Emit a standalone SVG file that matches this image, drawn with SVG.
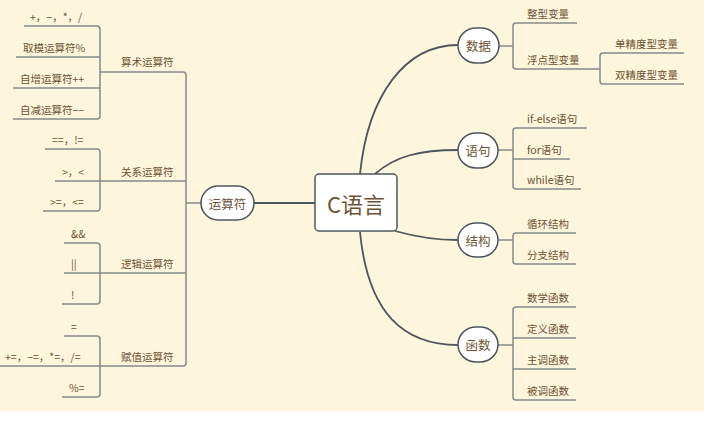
<svg xmlns="http://www.w3.org/2000/svg" width="704" height="423" viewBox="0 0 704 423">
<style>
.bg{fill:#fdf5dc}
.ln{fill:none;stroke:#858a8c;stroke-width:1.5}
.cv{fill:none;stroke:#4c575d;stroke-width:1.8}
.nd{fill:#ffffff;stroke:#4c575d;stroke-width:1.5}
.t{font-family:"Noto Sans CJK SC","Noto Sans",sans-serif;font-size:10.5px;fill:#6e5233}
.tn{font-family:"Noto Sans CJK SC","Noto Sans",sans-serif;font-size:12.5px;fill:#6e5233;text-anchor:middle;dominant-baseline:central}
</style>
<rect x="0" y="0" width="704" height="423" fill="#ffffff"/>
<rect class="bg" x="0" y="0" width="704" height="411"/>
<g id="connectors">
<path class="cv" d="M360,174 C368,95 405,45 458,45"/>
<path class="cv" d="M375,174 C395,156 420,150 458,150"/>
<path class="cv" d="M395,231 C420,238 440,240 458,240"/>
<path class="cv" d="M360,232 C368,315 405,345 458,345"/>
<path class="cv" d="M254,203 H315"/>
<path class="ln" d="M186,203 H201"/>
<path class="ln" d="M100,72 H183 Q186,72 186,75 V363 Q186,366 183,366 H0"/>
<path class="ln" d="M100,181 H186"/>
<path class="ln" d="M100,273 H186"/>
<path class="ln" d="M24,26 H97 Q100,26 100,29 V116 Q100,119 97,119 H13"/>
<path class="ln" d="M16,57 H100"/>
<path class="ln" d="M13,88 H100"/>
<path class="ln" d="M45,149 H97 Q100,149 100,152 V208 Q100,211 97,211 H43"/>
<path class="ln" d="M55,181 H100"/>
<path class="ln" d="M64,243 H97 Q100,243 100,246 V301 Q100,304 97,304 H62"/>
<path class="ln" d="M64,273 H100"/>
<path class="ln" d="M64,336 H97 Q100,336 100,339 V394 Q100,397 97,397 H62"/>
<path class="ln" d="M499,46 H513"/>
<path class="ln" d="M577,23 H516 Q513,23 513,26 V66 Q513,69 516,69 H600"/>
<path class="ln" d="M684,53 H603 Q600,53 600,56 V81 Q600,84 603,84 H684"/>
<path class="ln" d="M498,150 H513"/>
<path class="ln" d="M587,128 H516 Q513,128 513,131 V186 Q513,189 516,189 H581"/>
<path class="ln" d="M513,159 H570"/>
<path class="ln" d="M498,240 H513"/>
<path class="ln" d="M576,233 H516 Q513,233 513,236 V261 Q513,264 516,264 H576"/>
<path class="ln" d="M498,345 H513"/>
<path class="ln" d="M576,307 H516 Q513,307 513,310 V397 Q513,400 516,400 H576"/>
<path class="ln" d="M513,338 H576"/>
<path class="ln" d="M513,369 H576"/>
</g>
<g id="center">
<rect class="nd" x="315" y="174" width="82" height="57" rx="4"/>
<text x="356" y="203" font-family="'Noto Sans CJK SC','Noto Sans',sans-serif" font-size="22" fill="#6e5233" text-anchor="middle" dominant-baseline="central">C语言</text>
</g>
<g id="yunsuanfu">
<rect class="nd" x="201" y="186" width="53" height="34" rx="17"/>
<text class="tn" x="227.5" y="203">运算符</text>
</g>
<g id="suanshu">
<text class="t" x="121" y="66">算术运算符</text>
<text class="t" x="30" y="21">+，−，*，/</text>
<text class="t" x="23" y="52">取模运算符%</text>
<text class="t" x="20" y="83">自增运算符++</text>
<text class="t" x="20" y="114">自减运算符−−</text>
</g>
<g id="guanxi">
<text class="t" x="121" y="176">关系运算符</text>
<text class="t" x="52" y="144">==，!=</text>
<text class="t" x="62" y="176">&gt;，&lt;</text>
<text class="t" x="50" y="206">&gt;=，&lt;=</text>
</g>
<g id="luoji">
<text class="t" x="121" y="268">逻辑运算符</text>
<text class="t" x="71" y="238">&amp;&amp;</text>
<text class="t" x="71" y="268">||</text>
<text class="t" x="71" y="299">!</text>
</g>
<g id="fuzhi">
<text class="t" x="121" y="361">赋值运算符</text>
<text class="t" x="71" y="331">=</text>
<text class="t" x="5" y="361">+=，−=，*=，/=</text>
<text class="t" x="69" y="392">%=</text>
</g>
<g id="shuju">
<rect class="nd" x="458" y="28" width="41" height="35" rx="18"/>
<text class="tn" x="478.5" y="45.5">数据</text>
<text class="t" x="527" y="18">整型变量</text>
<text class="t" x="527" y="64">浮点型变量</text>
<text class="t" x="615" y="48">单精度型变量</text>
<text class="t" x="615" y="79">双精度型变量</text>
</g>
<g id="yuju">
<rect class="nd" x="458" y="133" width="40" height="35" rx="18"/>
<text class="tn" x="478" y="150.5">语句</text>
<text class="t" x="527" y="123">if-else语句</text>
<text class="t" x="527" y="154">for语句</text>
<text class="t" x="527" y="184">while语句</text>
</g>
<g id="jiegou">
<rect class="nd" x="458" y="223" width="40" height="34" rx="18"/>
<text class="tn" x="478" y="240">结构</text>
<text class="t" x="527" y="228">循环结构</text>
<text class="t" x="527" y="259">分支结构</text>
</g>
<g id="hanshu">
<rect class="nd" x="458" y="327" width="40" height="35" rx="18"/>
<text class="tn" x="478" y="344.5">函数</text>
<text class="t" x="527" y="302">数学函数</text>
<text class="t" x="527" y="333">定义函数</text>
<text class="t" x="527" y="364">主调函数</text>
<text class="t" x="527" y="395">被调函数</text>
</g>
</svg>
